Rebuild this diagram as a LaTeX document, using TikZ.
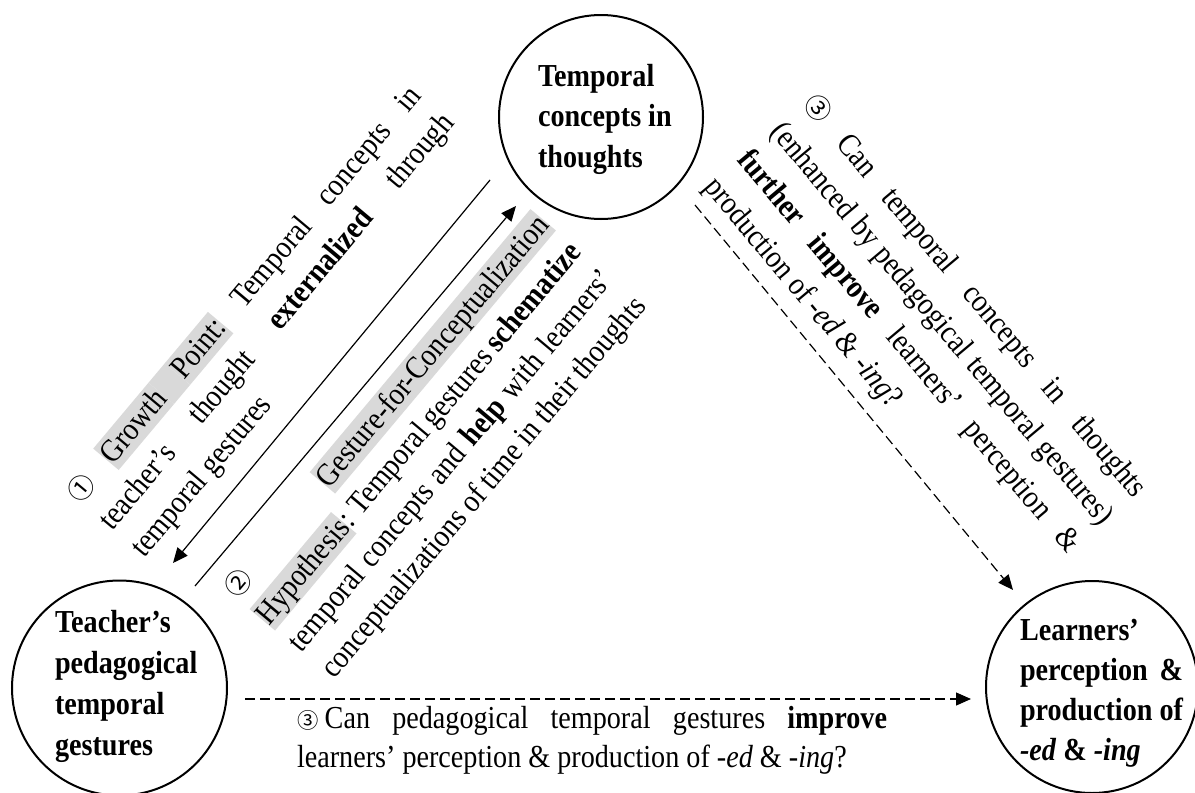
\documentclass[tikz,border=0pt]{standalone}
\usepackage{fontspec}
\setmainfont{Liberation Serif}[FakeStretch=0.88]
\newfontfamily\circfont{Noto Sans CJK SC}[Scale=0.82]
\usetikzlibrary{arrows.meta,calc}
\definecolor{hlgray}{RGB}{217,217,217}

% width of the justified text blocks
\newlength\blockw
\newlength\tmplen
% grey highlight of a word, and of a stretchable gap between highlighted words
\newcommand\marked[1]{{\setlength{\fboxsep}{0pt}\colorbox{hlgray}{\rule[-0.22em]{0pt}{1.04em}#1}}}
\newcommand\markedgap{{\color{hlgray}\leaders\vrule height 0.82em depth 0.22em\hskip\fontdimen2\font plus\fontdimen3\font minus\fontdimen4\font}}
\newcommand\circnum[1]{{\circfont #1}}
% a full justified line and a ragged last line
\newcommand\jline[1]{\hbox to \blockw{#1}}
\newcommand\lastline[1]{\hbox to \blockw{#1\hfil}}

\begin{document}
\begin{tikzpicture}[x=0.5pt,y=-0.5pt,
  stage/.style={circle,draw,line width=1pt,inner sep=0pt,minimum size=#1},
  blocktext/.style={inner sep=0pt,outer sep=0pt,anchor=base west},
  link/.style={line width=0.6pt,-{Triangle[length=7.5pt,width=6.5pt]}},
  maybe/.style={link,dash pattern=on 5pt off 2.5pt}]

\useasboundingbox (0,0) rectangle (1195,793);

% the three stages
\node[stage=102pt] (T) at (601,117) {};
\node[stage=107.5pt] (L) at (119.5,688) {};
\node[stage=106pt] (R) at (1092,687) {};

% stage titles
\node[blocktext,font=\fontsize{16}{20.25}\selectfont\bfseries] (Tt) at (538,86)
  {\vtop{\hbox{Temporal}\hbox{concepts in}\hbox{thoughts}}};
\node[blocktext,font=\fontsize{16}{20.5}\selectfont\bfseries] (Lt) at (55,632)
  {\vtop{\hbox{Teacher’s}\hbox{pedagogical}\hbox{temporal}\hbox{gestures}}};
\node[blocktext,font=\fontsize{16}{20}\selectfont\bfseries] (Rt) at (1020,640)
  {\settowidth{\tmplen}{production of}%
   \vtop{\hbox{Learners’}\hbox to \tmplen{perception\hfil\&}\hbox{production of}\hbox{\textit{-ed} \& \textit{-ing}}}};

% connectors
\coordinate (a1s) at ($(T)+(-111,63)$);
\coordinate (a1e) at ($(L)+(53.5,-125)$);
\coordinate (a2s) at ($(L)+(75.5,-102)$);
\coordinate (a2e) at ($(T)+(-85,89)$);
\coordinate (a3s) at ($(T)+(94,88)$);
\coordinate (a3e) at ($(R)+(-79,-97)$);
\coordinate (a4s) at ($(L)+(125.5,11)$);
\coordinate (a4e) at ($(R)+(-121,12)$);
\draw[link] (a1s) -- (a1e);
\draw[link] (a2s) -- (a2e);
\draw[maybe] (a3s) -- (a3e);
\draw[maybe] (a4s) -- (a4e);

% (1) growth point
\node[blocktext,rotate=50,font=\fontsize{16}{21}\selectfont] (g1) at (80.3,504.8)
  {\setlength\blockw{266.5pt}%
   \vtop{\jline{\circnum{①} \marked{Growth}\markedgap\marked{Point:} Temporal concepts in}
         \jline{teacher’s thought \textbf{externalized} through}
         \lastline{temporal gestures}}};

% (2) gesture-for-conceptualization hypothesis
\node[blocktext,rotate=50,font=\fontsize{16}{21}\selectfont] (g2) at (237.5,599)
  {\setlength\blockw{243.5pt}%
   \vtop{\jline{\circnum{②} \marked{Gesture-for-Conceptualization}}
         \jline{\marked{Hypothesis}: Temporal gestures \textbf{schematize}}
         \jline{temporal concepts and \textbf{help} with learners’}
         \lastline{conceptualizations of time in their thoughts}}};

% (3) question on the enhanced concepts
\node[blocktext,rotate=-50,font=\fontsize{16}{21.5}\selectfont] (g3) at (802.2,104.8)
  {\setlength\blockw{257.5pt}%
   \vtop{\jline{\circnum{③} Can temporal concepts in thoughts}
         \jline{(enhanced by pedagogical temporal gestures)}
         \jline{\textbf{further improve} learners’ perception \&}
         \lastline{production of \textit{-ed} \& \textit{-ing}?}}};

% (3) question on the gestures
\node[blocktext,font=\fontsize{16}{19.5}\selectfont] (g4) at (297,728)
  {\setlength\blockw{295pt}%
   \vtop{\jline{{\fontsize{13}{14}\circfont ③}\kern0.2em Can pedagogical temporal gestures \textbf{improve}}
         \lastline{learners’ perception \& production of \textit{-ed} \& \textit{-ing}?}}};
\end{tikzpicture}
\end{document}
